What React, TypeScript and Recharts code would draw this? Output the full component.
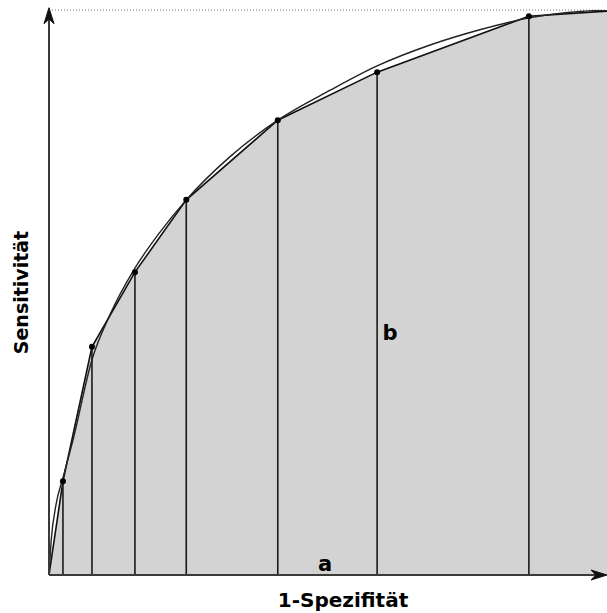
import React from 'react';
import {
  ComposedChart,
  Area,
  Line,
  XAxis,
  YAxis,
  ReferenceLine,
  ReferenceDot,
} from 'recharts';

// ROC operating points (1-Spezifität, Sensitivität)
const fprPoints = [0, 0.025, 0.077, 0.154, 0.246, 0.41, 0.588, 0.86, 1.0];
const tprPoints = [0, 0.166, 0.404, 0.536, 0.664, 0.805, 0.89, 0.989, 0.998];

// Smooth ROC curve samples
const curveX = [0, 0.004, 0.0125, 0.025, 0.043, 0.077, 0.109, 0.154, 0.199, 0.246, 0.324, 0.41, 0.504, 0.588, 0.683, 0.772, 0.86, 0.934, 1.0];
const curveY = [0, 0.062, 0.124, 0.172, 0.239, 0.381, 0.46, 0.543, 0.607, 0.664, 0.74, 0.805, 0.858, 0.901, 0.938, 0.965, 0.986, 0.996, 1.0];

const xLabel = '1-Spezifität';
const yLabel = 'Sensitivität';
const areaLabel = 'a';
const curveLabel = 'b';

const polyData = fprPoints.map((x, i) => ({ x, y: tprPoints[i] }));
const curveData = curveX.map((x, i) => ({ x, c: curveY[i] }));

const FONT = '"DejaVu Sans", sans-serif';

const arrowShape = (props: any) => {
  const { x1, y1, x2, y2 } = props;
  const dx = x2 - x1;
  const dy = y2 - y1;
  const len = Math.sqrt(dx * dx + dy * dy) || 1;
  const ux = dx / len;
  const uy = dy / len;
  const px = -uy;
  const py = ux;
  const L = 16;
  const W = 5;
  const bx = x2 - ux * L;
  const by = y2 - uy * L;
  const nx = x2 - ux * (L * 0.7);
  const ny = y2 - uy * (L * 0.7);
  const d = `M${x2},${y2} L${bx + px * W},${by + py * W} L${nx},${ny} L${bx - px * W},${by - py * W} Z`;
  return (
    <g>
      <line x1={x1} y1={y1} x2={nx} y2={ny} stroke="#3a3a3a" strokeWidth={2} />
      <path d={d} fill="#111" stroke="#111" strokeWidth={1} />
    </g>
  );
};

const renderDot = (p: any) => {
  const { cx, cy, index } = p;
  if (index === 0 || index === fprPoints.length - 1) return <g key={`d${index}`} />;
  return <circle key={`d${index}`} cx={cx} cy={cy} r={3} fill="#000" />;
};

export default function App() {
  return (
    <div style={{ position: 'absolute', left: 0, top: 0, background: '#fff' }}>
      <ComposedChart
        width={607}
        height={613}
        margin={{ top: 10, right: 0, bottom: 0, left: 0 }}
      >
        <XAxis
          type="number"
          dataKey="x"
          domain={[0, 1]}
          allowDataOverflow
          tick={false}
          axisLine={false}
          tickLine={false}
          height={38}
          label={{
            value: xLabel,
            position: 'insideBottom',
            offset: 6,
            dx: 15,
            style: { fontFamily: FONT, fontWeight: 'bold', fontSize: 20, fill: '#000' },
          }}
        />
        <YAxis
          type="number"
          domain={[0, 1]}
          allowDataOverflow
          tick={false}
          axisLine={false}
          tickLine={false}
          width={49}
          label={{
            value: yLabel,
            angle: -90,
            position: 'insideLeft',
            offset: 21,
            style: { fontFamily: FONT, fontWeight: 'bold', fontSize: 19, fill: '#000', textAnchor: 'middle' },
          }}
        />
        <ReferenceLine
          y={1}
          stroke="#777"
          strokeWidth={1}
          strokeDasharray="1 2"
          ifOverflow="visible"
        />
        <Area
          data={polyData}
          dataKey="y"
          type="linear"
          fill="#d3d3d3"
          fillOpacity={1}
          stroke="#111"
          strokeWidth={1.6}
          dot={renderDot}
          activeDot={false}
          isAnimationActive={false}
        />
        {fprPoints.slice(1, -1).map((x, i) => (
          <ReferenceLine
            key={`v${i}`}
            segment={[{ x, y: 0 }, { x, y: tprPoints[i + 1] }]}
            stroke="#1a1a1a"
            strokeWidth={1.6}
            ifOverflow="visible"
          />
        ))}
        <Line
          data={curveData}
          dataKey="c"
          type="monotone"
          stroke="#222"
          strokeWidth={1.4}
          dot={false}
          activeDot={false}
          isAnimationActive={false}
        />
        <ReferenceLine
          segment={[{ x: 0, y: 0 }, { x: 1, y: 0 }]}
          ifOverflow="visible"
          shape={arrowShape}
        />
        <ReferenceLine
          segment={[{ x: 0, y: 0 }, { x: 0, y: 1.004 }]}
          ifOverflow="visible"
          shape={arrowShape}
        />
        <ReferenceDot
          x={0.495}
          y={0.021}
          r={0}
          ifOverflow="visible"
          label={{
            value: areaLabel,
            position: 'center',
            style: { fontFamily: FONT, fontWeight: 'bold', fontSize: 21, fill: '#000' },
          }}
        />
        <ReferenceDot
          x={0.611}
          y={0.43}
          r={0}
          ifOverflow="visible"
          label={{
            value: curveLabel,
            position: 'center',
            style: { fontFamily: FONT, fontWeight: 'bold', fontSize: 21, fill: '#000' },
          }}
        />
      </ComposedChart>
    </div>
  );
}
